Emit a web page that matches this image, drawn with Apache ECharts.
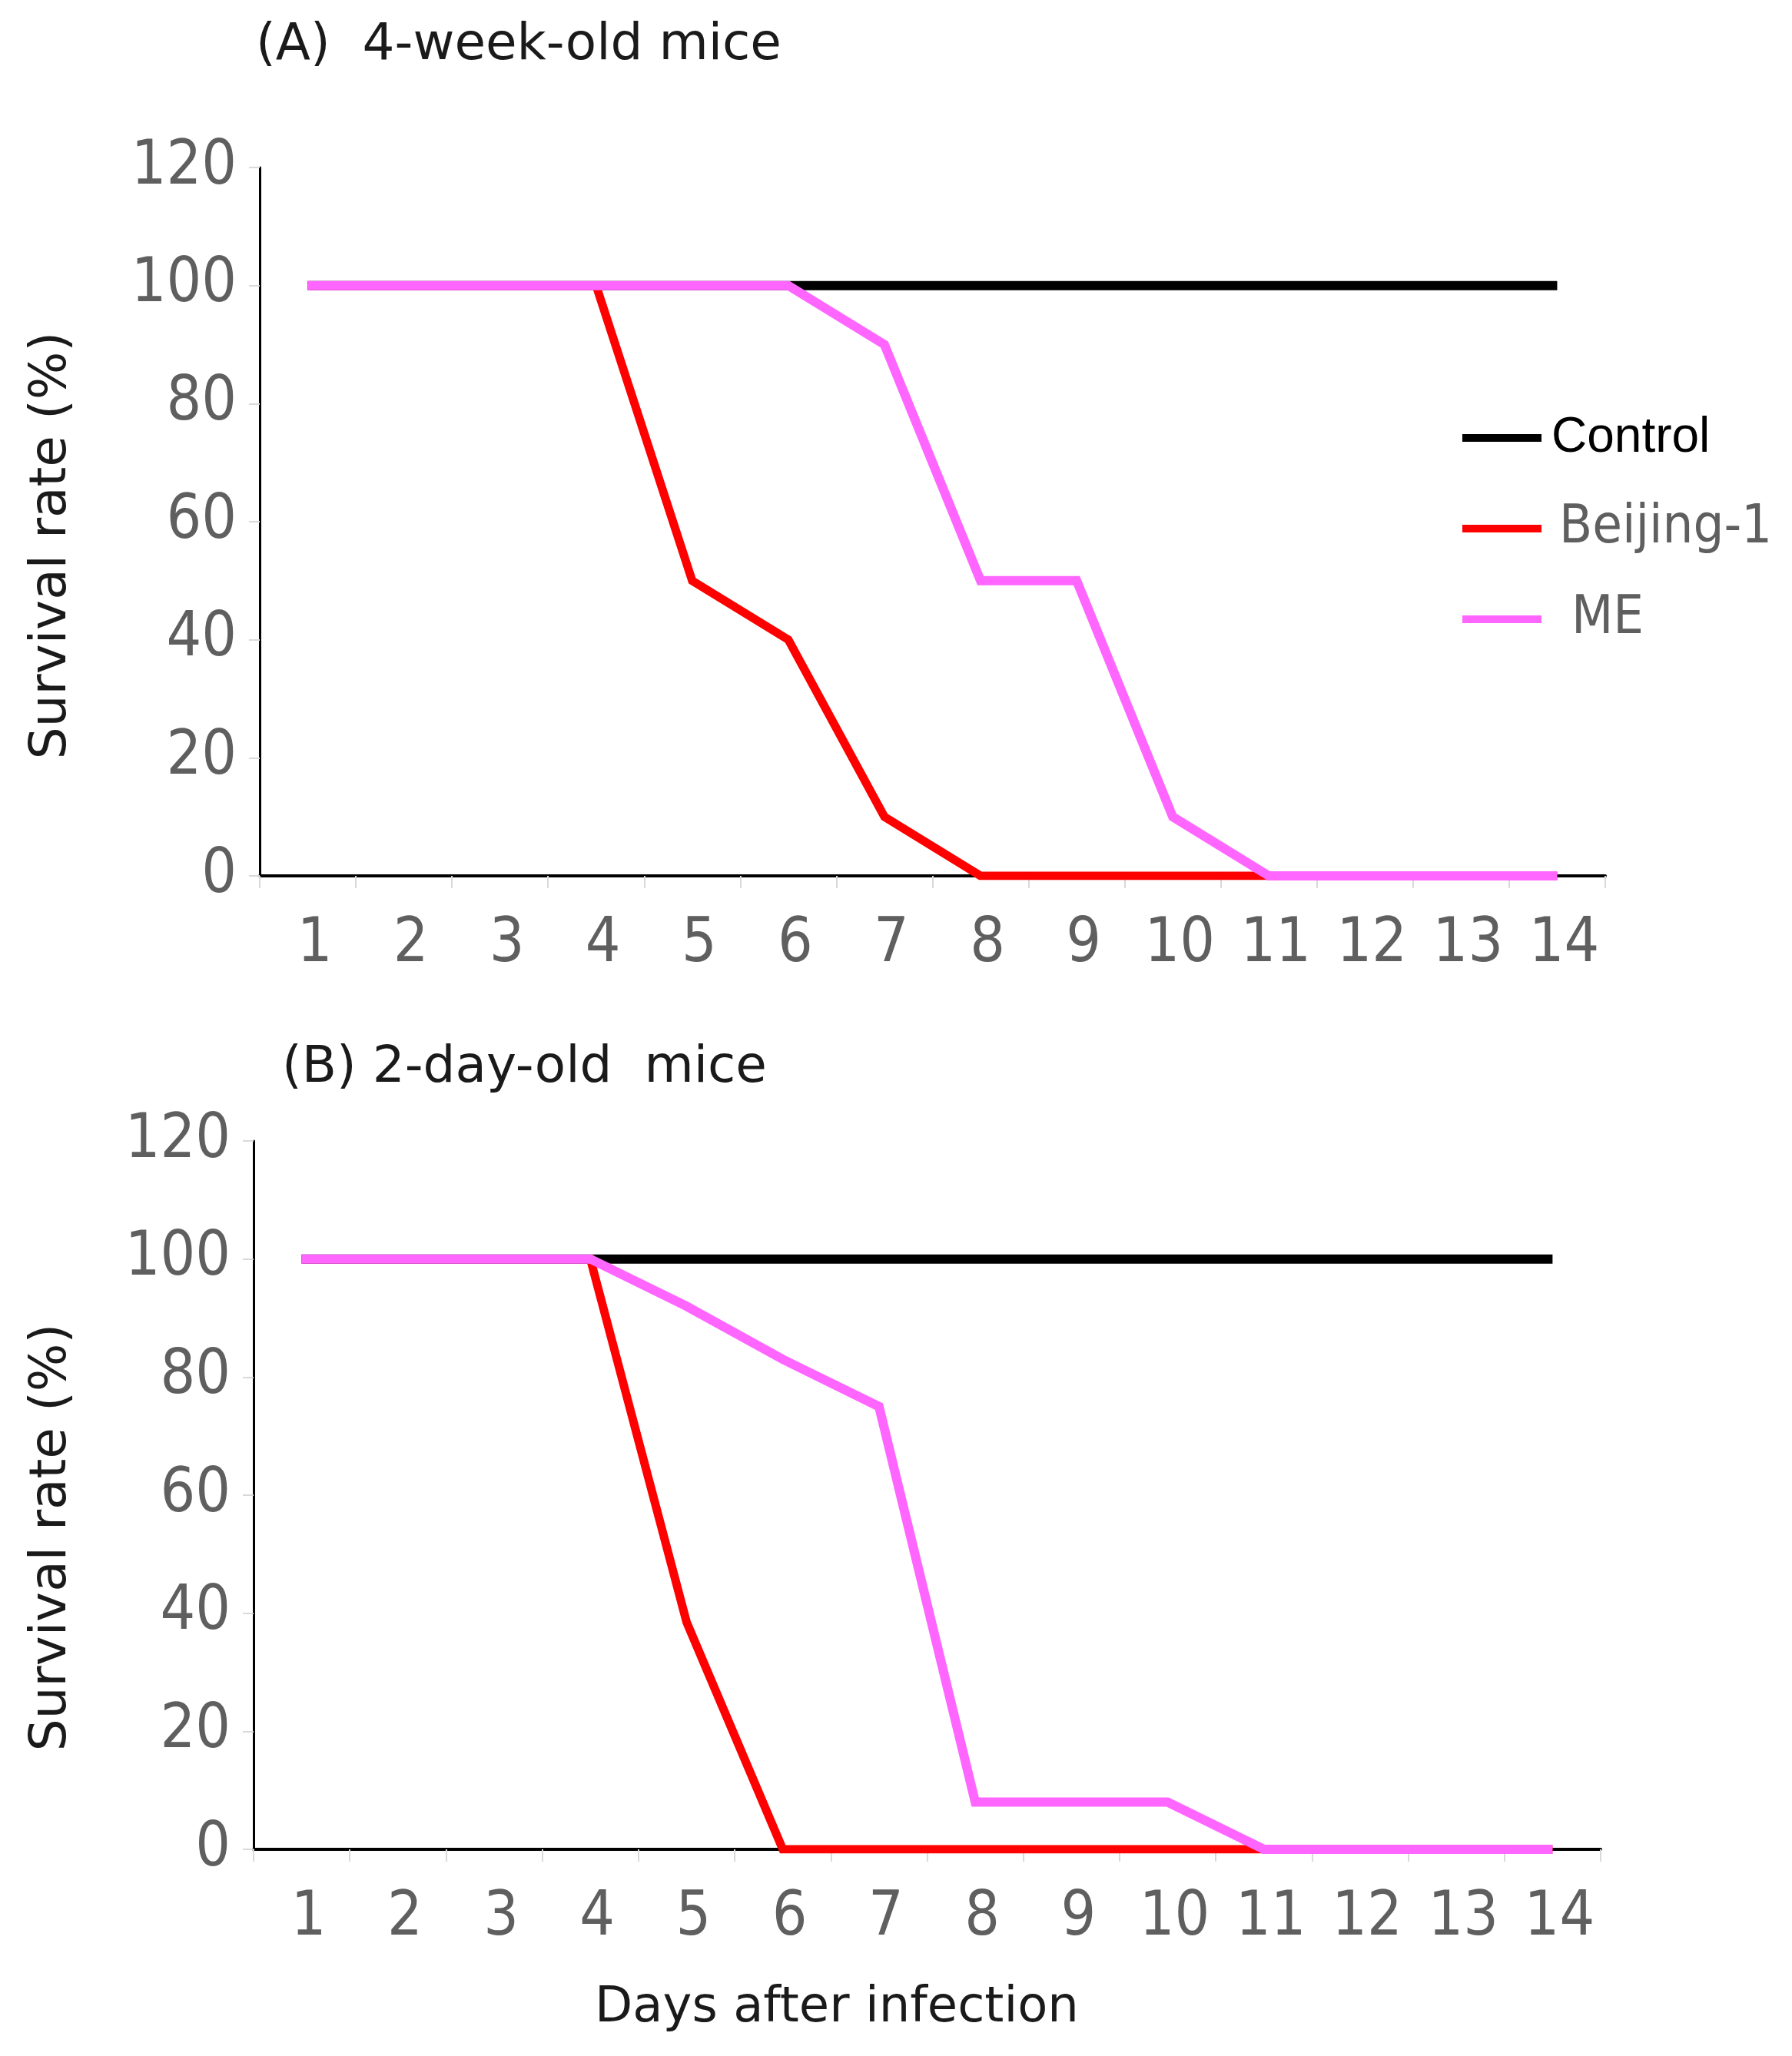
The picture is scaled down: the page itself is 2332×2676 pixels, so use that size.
<!DOCTYPE html>
<html>
<head>
<meta charset="utf-8">
<script src="https://cdn.jsdelivr.net/npm/echarts@6/dist/echarts.min.js"></script>
<style>
  html, body { margin: 0; padding: 0; background: #fff; }
  #main { width: 2332px; height: 2676px; }
</style>
</head>
<body>
<div id="main"></div>
<script>
var days = ['1', '2', '3', '4', '5', '6', '7', '8', '9', '10', '11', '12', '13', '14'];
var yTicks = [0, 20, 40, 60, 80, 100, 120];

// (A) 4-week-old mice
var controlA = [100, 100, 100, 100, 100, 100, 100, 100, 100, 100, 100, 100, 100, 100];
var beijingA = [100, 100, 100, 100, 50, 40, 10, 0, 0, 0, 0, 0, 0, 0];
var meA = [100, 100, 100, 100, 100, 100, 90, 50, 50, 10, 0, 0, 0, 0];

// (B) 2-day-old mice
var controlB = [100, 100, 100, 100, 100, 100, 100, 100, 100, 100, 100, 100, 100, 100];
var beijingB = [100, 100, 100, 100, 38.5, 0, 0, 0, 0, 0, 0, 0, 0, 0];
var meB = [100, 100, 100, 100, 92, 83, 75, 8, 8, 8, 0, 0, 0, 0];

var seriesNames = ['Control', 'Beijing-1', 'ME'];
var seriesColors = ['#000000', '#ff0000', '#ff66ff'];
var lineWidths = [12, 11, 12];

var tickFont = 'DejaVu Sans Condensed, DejaVu Sans, sans-serif';
var textFont = 'DejaVu Sans, Verdana, sans-serif';

var chart = echarts.init(document.getElementById('main'));

function xAxisFor(idx) {
    return {
        type: 'category',
        gridIndex: idx,
        data: days,
        boundaryGap: true,
        axisLine: {lineStyle: {color: '#000', width: 4}},
        axisTick: {show: true, length: 16, lineStyle: {color: '#d9d9d9', width: 2}},
        axisLabel: {
            fontSize: 80, fontFamily: tickFont, color: '#5f5f5f',
            margin: 50, padding: [0, 0, 0, 18]
        },
        splitLine: {show: false}
    };
}

function yAxisFor(idx) {
    return {
        type: 'value',
        gridIndex: idx,
        min: 0, max: 120, interval: 20,
        axisLine: {show: true, lineStyle: {color: '#000', width: 3}},
        axisTick: {show: true, length: 14, lineStyle: {color: '#d9d9d9', width: 2}},
        axisLabel: {
            fontSize: 80, fontFamily: tickFont, color: '#5f5f5f', margin: 30,
            formatter: function(v) { return yTicks.indexOf(v) >= 0 ? String(v) : ''; }
        },
        splitLine: {show: false}
    };
}

function lineSeries(i, data, idx) {
    return {
        name: seriesNames[i],
        type: 'line',
        xAxisIndex: idx,
        yAxisIndex: idx,
        data: data,
        showSymbol: false,
        symbol: 'none',
        silent: true,
        z: 2 + i,
        itemStyle: {color: seriesColors[i]},
        lineStyle: {color: seriesColors[i], width: lineWidths[i], cap: 'butt', join: 'miter'}
    };
}

var legendText = [
    {color: '#000000', fontFamily: 'Liberation Sans, Arial, sans-serif', fontSize: 64, padding: [0, 0, 0, 8]},
    {color: '#5f5f5f', fontFamily: tickFont, fontSize: 70, padding: [0, 0, 0, 18]},
    {color: '#5f5f5f', fontFamily: tickFont, fontSize: 70, padding: [0, 0, 0, 34]}
];

chart.setOption({
    backgroundColor: '#ffffff',
    animation: false,
    grid: [
        {left: 338, top: 218, width: 1751, height: 922},
        {left: 330, top: 1485, width: 1753, height: 922}
    ],
    xAxis: [xAxisFor(0), xAxisFor(1)],
    yAxis: [yAxisFor(0), yAxisFor(1)],
    legend: {
        orient: 'vertical',
        left: 1903,
        top: 532,
        padding: 0,
        itemGap: 42,
        itemWidth: 103,
        itemHeight: 10,
        icon: 'rect',
        selectedMode: false,
        data: seriesNames.map(function(n, i) {
            return {
                name: n,
                textStyle: Object.assign({lineHeight: 76}, legendText[i])
            };
        })
    },
    graphic: [
        {type: 'text', x: 333, y: 60, style: {text: '(A)  4-week-old mice', fontSize: 66, fontFamily: textFont, fill: '#1a1a1a', verticalAlign: 'middle'}},
        {type: 'text', x: 367, y: 1391, style: {text: '(B) 2-day-old  mice', fontSize: 66, fontFamily: textFont, fill: '#1a1a1a', verticalAlign: 'middle'}},
        {type: 'text', x: 68, y: 710, rotation: Math.PI / 2, style: {text: 'Survival rate (%)', fontSize: 66, fontFamily: textFont, fill: '#1a1a1a', align: 'center', verticalAlign: 'middle'}},
        {type: 'text', x: 68, y: 2001, rotation: Math.PI / 2, style: {text: 'Survival rate (%)', fontSize: 66, fontFamily: textFont, fill: '#1a1a1a', align: 'center', verticalAlign: 'middle'}},
        {type: 'text', x: 1089, y: 2614, style: {text: 'Days after infection', fontSize: 64, fontFamily: textFont, fill: '#1a1a1a', align: 'center', verticalAlign: 'middle'}}
    ],
    series: [
        lineSeries(0, controlA, 0),
        lineSeries(1, beijingA, 0),
        lineSeries(2, meA, 0),
        lineSeries(0, controlB, 1),
        lineSeries(1, beijingB, 1),
        lineSeries(2, meB, 1)
    ]
});
</script>
</body>
</html>
